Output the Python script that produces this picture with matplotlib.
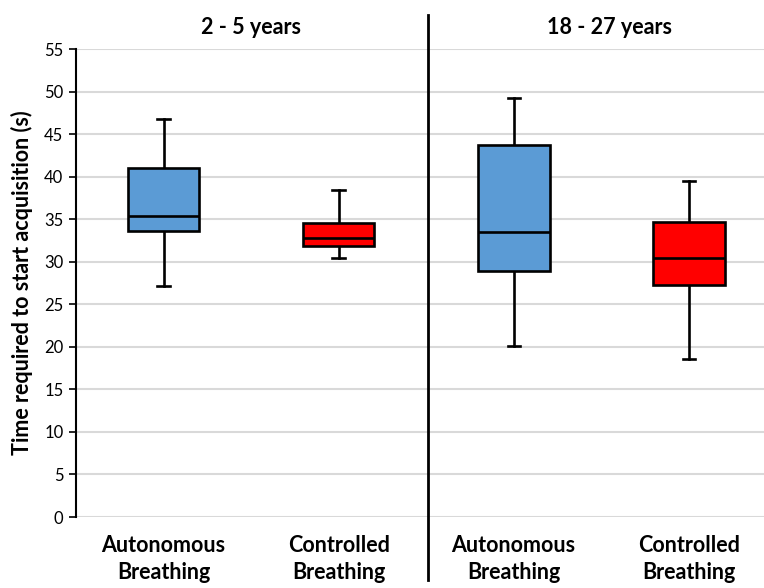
import matplotlib
matplotlib.use('Agg')
import matplotlib.pyplot as plt

plt.rcParams['font.family'] = ['Lato', 'DejaVu Sans']

groups = ['2 - 5 years', '18 - 27 years']
conditions = ['Autonomous\nBreathing', 'Controlled\nBreathing',
              'Autonomous\nBreathing', 'Controlled\nBreathing']

# five-number summaries (s)
whislo = [27.1, 30.4, 20.1, 18.6]
q1 = [33.6, 31.8, 28.9, 27.3]
med = [35.4, 32.8, 33.5, 30.4]
q3 = [41.0, 34.6, 43.7, 34.7]
whishi = [46.8, 38.4, 49.2, 39.5]

colors = ['#5B9BD5', '#FF0000', '#5B9BD5', '#FF0000']

stats = []
for i in range(4):
    stats.append({'whislo': whislo[i], 'q1': q1[i], 'med': med[i],
                  'q3': q3[i], 'whishi': whishi[i], 'fliers': []})

fig = plt.figure(figsize=(7.64, 5.88), dpi=100)
ax = fig.add_axes([76 / 764, 1 - 517 / 588, 1 - 76 / 764, 468 / 588])

positions = [1, 2, 3, 4]
bp = ax.bxp(stats, positions=positions, widths=0.41, patch_artist=True,
            showfliers=False, capwidths=0.07,
            boxprops=dict(linewidth=1.9, edgecolor='black'),
            medianprops=dict(color='black', linewidth=1.9),
            whiskerprops=dict(color='black', linewidth=1.9),
            capprops=dict(color='black', linewidth=1.9))
for patch, c in zip(bp['boxes'], colors):
    patch.set_facecolor(c)
for b in bp['boxes']:
    b.set_zorder(3)
for m in bp['medians']:
    m.set_zorder(4)

ax.set_xlim(0.5, 4.43)
ax.set_ylim(0, 55)
ax.set_yticks(range(0, 56, 5))
ax.yaxis.grid(True, color='#D9D9D9', linewidth=1.5)
ax.set_axisbelow(True)
for s in ['top', 'right', 'bottom']:
    ax.spines[s].set_visible(False)
ax.spines['left'].set_linewidth(1.5)
ax.tick_params(axis='y', labelsize=12, length=5, width=1.2, pad=4)
ax.set_xticks(positions)
ax.set_xticklabels(conditions, fontsize=15.5, fontweight='bold', linespacing=1.35)
ax.tick_params(axis='x', length=0, pad=13)

ax.set_ylabel('Time required to start acquisition (s)', fontsize=15.5,
              fontweight='bold', labelpad=8)

# group titles and divider
ax.text(1.5, 1.047, groups[0], transform=ax.get_xaxis_transform(),
        ha='center', va='center', fontsize=15.5, fontweight='bold')
ax.text(3.55, 1.047, groups[1], transform=ax.get_xaxis_transform(),
        ha='center', va='center', fontsize=15.5, fontweight='bold')
ax.plot([2.51, 2.51], [-0.135, 1.073], transform=ax.get_xaxis_transform(),
        color='black', linewidth=2, clip_on=False)

fig.savefig('out.png', dpi=100)
